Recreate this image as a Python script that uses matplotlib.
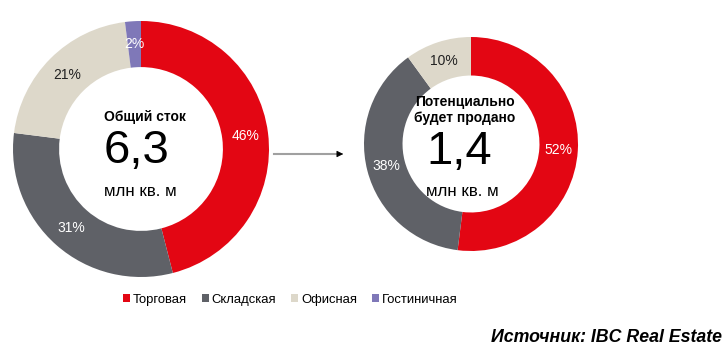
import matplotlib.pyplot as plt
from matplotlib.patches import Patch

plt.rcParams['font.family'] = ['Liberation Sans', 'DejaVu Sans']

# данные
categories = ['Торговая', 'Складская', 'Офисная', 'Гостиничная']
colors = ['#E30613', '#5F6167', '#DDD8CA', '#7F78B8']
total_shares = [46, 31, 21, 2]
sold_shares = [52, 38, 10]
total_value = '6,3'
sold_value = '1,4'
unit = 'млн кв. м'

fig = plt.figure(figsize=(7.28, 3.59), dpi=100)
ax = fig.add_axes([0, 0, 1, 1])


def donut(values, center, radius, label_colors):
    # ось y перевёрнута, поэтому старт с -90 и против часовой в данных = по часовой на экране
    wedges, _, autotexts = ax.pie(
        values, colors=colors[:len(values)], startangle=-90, counterclock=True,
        center=center, radius=radius, autopct=lambda p: f'{p:.0f}%',
        pctdistance=0.82, wedgeprops=dict(width=radius * 0.36, linewidth=0),
        textprops=dict(fontsize=10), frame=True)
    for t, c in zip(autotexts, label_colors):
        t.set_color(c)
    return wedges


donut(total_shares, (141, 149), 128, ['white', 'white', '#222222', 'white'])
donut(sold_shares, (471, 144), 107, ['white', 'white', '#222222'])
ax.set_xlim(0, 728)
ax.set_ylim(359, 0)
ax.set_aspect('equal')
ax.axis('off')

# центр левого
ax.text(145, 117, 'Общий сток', ha='center', va='center', fontsize=10, fontweight='bold')
ax.text(137, 151, total_value, ha='center', va='center', fontsize=34)
ax.text(140, 191, unit, ha='center', va='center', fontsize=12.2)

# центр правого
ax.text(465, 102, 'Потенциально', ha='center', va='center', fontsize=10, fontweight='bold')
ax.text(465, 118, 'будет продано', ha='center', va='center', fontsize=10, fontweight='bold')
ax.text(459, 152, sold_value, ha='center', va='center', fontsize=34)
ax.text(462, 191, unit, ha='center', va='center', fontsize=12.2)

# стрелка
ax.plot([274, 340], [154, 154], color='#A0A0A0', lw=1.5)
ax.annotate('', xy=(346, 154), xytext=(338, 154),
            arrowprops=dict(arrowstyle='-|>', color='black', lw=0.5, mutation_scale=10))

handles = [Patch(facecolor=c, edgecolor='none') for c in colors]
fig.legend(handles, categories, loc='center', bbox_to_anchor=(0.399, 0.165), ncol=4,
           frameon=False, fontsize=9.4, handlelength=0.5, handleheight=0.5,
           handletextpad=0.25, columnspacing=1.15)

fig.text(0.992, 0.06, 'Источник: IBC Real Estate', ha='right', va='center',
         fontsize=12.8, fontweight='bold', fontstyle='italic')

fig.savefig('out.png', dpi=100)
